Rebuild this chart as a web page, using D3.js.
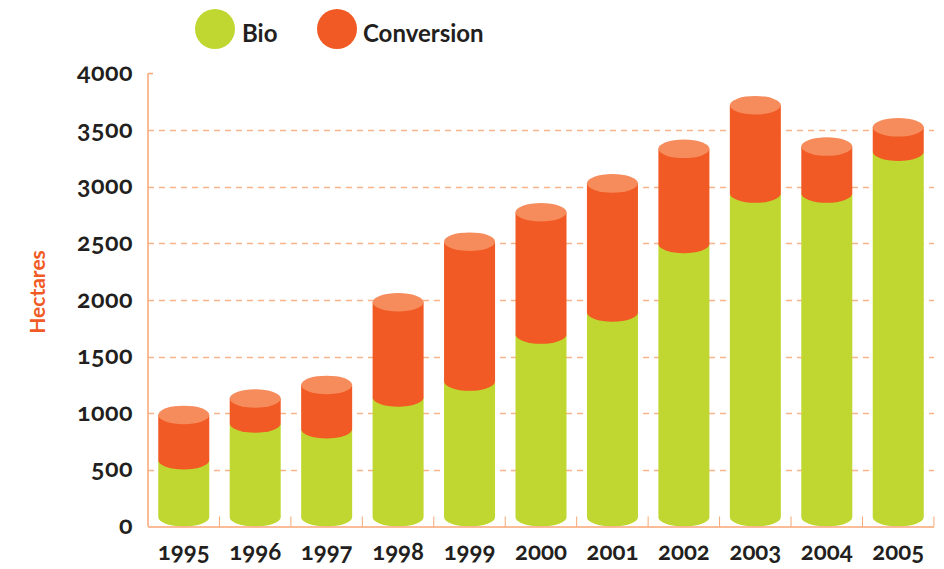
<!DOCTYPE html>
<html>
<head>
<meta charset="utf-8">
<script src="https://cdn.jsdelivr.net/npm/d3@7"></script>
<style>
  body { margin: 0; background: #fff; }
  svg text { font-family: Lato, "Noto Sans", sans-serif; font-weight: 700; font-variant-numeric: oldstyle-nums; font-feature-settings: "onum"; }
</style>
</head>
<body>
<div id="chart"></div>
<script>
// values
const years = ['1995', '1996', '1997', '1998', '1999', '2000', '2001', '2002', '2003', '2004', '2005'];
const bio = [585, 910, 860, 1140, 1280, 1695, 1890, 2495, 2940, 2940, 3310];
const conversion = [400, 220, 390, 840, 1235, 1080, 1140, 840, 780, 415, 215];
const yTicks = [0, 500, 1000, 1500, 2000, 2500, 3000, 3500, 4000];

const WIDTH = 944;
const HEIGHT = 569;
const COLOR = {
  bio: '#bfd730',
  conversion: '#f15a24',
  top: '#f68b5c',
  axis: '#f7a674',
  grid: '#f9b58a',
  text: '#231f20',
};
const RX = 25.5;
const RY = 9.3;

const svg = d3.select('#chart').append('svg')
  .attr('width', WIDTH)
  .attr('height', HEIGHT);

const x = d3.scaleBand()
  .domain(years)
  .range([148, 934])
  .paddingInner(0.285)
  .paddingOuter(0.143);

const y = d3.scaleLinear()
  .domain([0, 4000])
  .range([526.5, 73.5]);

const bandStep = x.step();
const left = 148;
const right = 934;

// dashed grid
svg.append('g')
  .selectAll('line')
  .data(yTicks.filter(d => d > 0 && d < 4000))
  .enter()
  .append('line')
  .attr('x1', left)
  .attr('x2', right)
  .attr('y1', d => Math.round(y(d)) + 0.5)
  .attr('y2', d => Math.round(y(d)) + 0.5)
  .style('stroke', COLOR.grid)
  .style('stroke-width', 1.3)
  .style('stroke-dasharray', '6,5');

// y axis line + labels
svg.append('line')
  .attr('x1', left).attr('x2', left)
  .attr('y1', y(4000)).attr('y2', y(0))
  .style('stroke', COLOR.axis)
  .style('stroke-width', 1.5);
svg.append('line')
  .attr('x1', left).attr('x2', left + 5)
  .attr('y1', y(4000)).attr('y2', y(4000))
  .style('stroke', COLOR.axis)
  .style('stroke-width', 1.5);

svg.append('g')
  .selectAll('text')
  .data(yTicks)
  .enter()
  .append('text')
  .attr('x', 133)
  .attr('y', d => y(d))
  .attr('dy', '0.3em')
  .attr('text-anchor', 'end')
  .style('font-size', '25px')
  .style('letter-spacing', '0.5px')
  .style('fill', COLOR.text)
  .text(d => d);

// cylinders
function cylinder(cx, yb, yt) {
  return `M${cx - RX},${yt} L${cx - RX},${yb} A${RX},${RY} 0 0 0 ${cx + RX},${yb} L${cx + RX},${yt} Z`;
}

const base = y(0) - RY;
const bars = svg.append('g')
  .selectAll('g')
  .data(years.map((yr, i) => ({yr, bio: bio[i], conv: conversion[i]})))
  .enter()
  .append('g');

bars.append('path')
  .attr('d', d => cylinder(x(d.yr) + x.bandwidth() / 2, base, y(d.bio)))
  .attr('fill', COLOR.bio);

bars.append('path')
  .attr('d', d => cylinder(x(d.yr) + x.bandwidth() / 2, y(d.bio), y(d.bio + d.conv)))
  .attr('fill', COLOR.conversion);

bars.append('ellipse')
  .attr('cx', d => x(d.yr) + x.bandwidth() / 2)
  .attr('cy', d => y(d.bio + d.conv))
  .attr('rx', RX)
  .attr('ry', RY)
  .attr('fill', COLOR.top);

// x axis
svg.append('line')
  .attr('x1', left).attr('x2', right)
  .attr('y1', y(0) + 0.5).attr('y2', y(0) + 0.5)
  .style('stroke', COLOR.axis)
  .style('stroke-width', 1.5);

svg.append('g')
  .selectAll('line')
  .data(years.slice(1).concat(['end']))
  .enter()
  .append('line')
  .attr('x1', (d, i) => left + bandStep * (i + 1))
  .attr('x2', (d, i) => left + bandStep * (i + 1))
  .attr('y1', y(0) - 10)
  .attr('y2', y(0))
  .style('stroke', COLOR.axis)
  .style('stroke-width', 1);

svg.append('g')
  .selectAll('text')
  .data(years)
  .enter()
  .append('text')
  .attr('x', d => x(d) + x.bandwidth() / 2)
  .attr('y', 560)
  .attr('text-anchor', 'middle')
  .style('font-size', '24px')
  .style('fill', COLOR.text)
  .text(d => d);

// y title
svg.append('text')
  .attr('transform', 'translate(45,292) rotate(-90)')
  .attr('text-anchor', 'middle')
  .style('font-size', '21px')
  .style('fill', COLOR.conversion)
  .text('Hectares');

// legend
const legend = [
  {label: 'Bio', color: COLOR.bio, cx: 215, tx: 242},
  {label: 'Conversion', color: COLOR.conversion, cx: 337, tx: 363},
];
const lg = svg.append('g')
  .selectAll('g')
  .data(legend)
  .enter()
  .append('g');
lg.append('circle')
  .attr('cx', d => d.cx)
  .attr('cy', 29)
  .attr('r', 20)
  .attr('fill', d => d.color);
lg.append('text')
  .attr('x', d => d.tx)
  .attr('y', 42)
  .style('font-size', '24px')
  .style('fill', COLOR.text)
  .text(d => d.label);
</script>
</body>
</html>
